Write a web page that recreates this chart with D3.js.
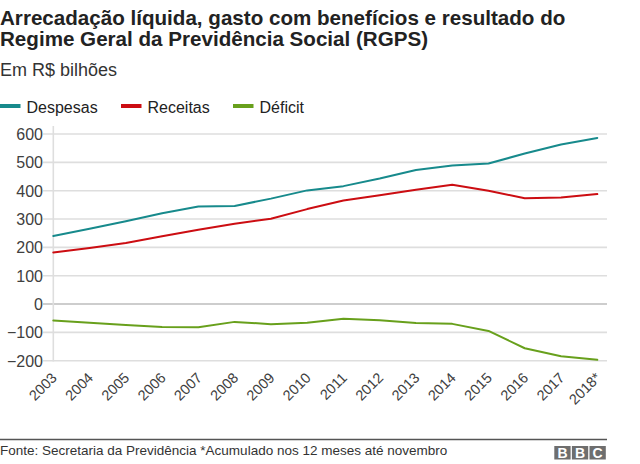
<!DOCTYPE html>
<html>
<head>
<meta charset="utf-8">
<script src="https://cdn.jsdelivr.net/npm/d3@7"></script>
<style>
  html, body { margin: 0; padding: 0; background: #fff; }
  svg { display: block; font-family: "Liberation Sans", Arial, Helvetica, sans-serif; }
</style>
</head>
<body>
<svg id="chart" width="640" height="464"></svg>
<script>
const years = ["2003","2004","2005","2006","2007","2008","2009","2010","2011","2012","2013","2014","2015","2016","2017","2018*"];
const despesas = [240, 266, 292, 320, 344, 346, 372, 401, 416, 443, 473, 489, 496, 531, 563, 586];
const receitas = [182, 198, 215, 239, 262, 283, 301, 335, 365, 384, 403, 421, 400, 373, 376, 388];
const deficit  = [-58, -66, -74, -81, -82, -63, -71, -66, -52, -57, -67, -70, -95, -156, -184, -197];
const yTicks = [600, 500, 400, 300, 200, 100, 0, -100, -200];
const seriesNames = ["Despesas", "Receitas", "Déficit"];
const seriesColors = ["#178a8c", "#cc0d12", "#68a01c"];

const svg = d3.select("#chart");

// Title
const title = svg.append("text").attr("fill", "#222").attr("font-weight", "bold").attr("font-size", 20.6);
title.append("tspan").attr("x", 0).attr("y", 25).text("Arrecadação líquida, gasto com benefícios e resultado do");
title.append("tspan").attr("x", 0).attr("y", 46).text("Regime Geral da Previdência Social (RGPS)");
svg.append("text").attr("x", 0).attr("y", 76).attr("font-size", 18).attr("fill", "#333").text("Em R$ bilhões");

// Legend
const legendX = [0, 121, 233];
seriesNames.forEach((n, i) => {
  svg.append("rect").attr("x", legendX[i]).attr("y", 104).attr("width", 20.5).attr("height", 4).attr("fill", seriesColors[i]);
  svg.append("text").attr("x", legendX[i] + 26.5).attr("y", 112.5).attr("font-size", 16).attr("fill", "#222").text(n);
});

// Scales
const x = d3.scalePoint().domain(years).range([53.3, 597.3]);
const y = d3.scaleLinear().domain([-200, 600]).range([360.7, 134]);

// Grid
const grid = svg.append("g");
grid.selectAll("line").data(yTicks).join("line")
  .attr("x1", 43).attr("x2", 607)
  .attr("y1", d => y(d)).attr("y2", d => y(d))
  .attr("stroke", d => d === 0 ? "#bdbdbd" : "#dedede")
  .attr("stroke-width", 1.6);
svg.append("line").attr("x1", 53.3).attr("x2", 53.3).attr("y1", 126).attr("y2", 361.5)
  .attr("stroke", "#dedede").attr("stroke-width", 1.6);

// Y axis labels via d3 axis
const yAxis = svg.append("g").attr("transform", "translate(43,0)")
  .call(d3.axisLeft(y).tickValues(yTicks).tickSize(0).tickPadding(0).tickFormat(d3.format("d")));
yAxis.select(".domain").remove();
yAxis.selectAll("text").attr("font-size", 16).attr("fill", "#404040")
  .attr("font-family", "Liberation Sans, Arial, sans-serif").attr("dy", "0.35em");

// X axis labels
const xAxis = svg.append("g").attr("transform", "translate(0,360.7)")
  .call(d3.axisBottom(x).tickSize(0).tickPadding(0));
xAxis.select(".domain").remove();
xAxis.selectAll("text")
  .attr("font-size", 14.5).attr("fill", "#404040")
  .attr("font-family", "Liberation Sans, Arial, sans-serif")
  .attr("text-anchor", "end")
  .attr("dy", null).attr("y", null)
  .attr("transform", "translate(4,18) rotate(-45)");

// Lines
const line = d3.line().x((d, i) => x(years[i])).y(d => y(d));
[despesas, receitas, deficit].forEach((s, i) => {
  svg.append("path").datum(s).attr("d", line)
    .attr("fill", "none").attr("stroke", seriesColors[i]).attr("stroke-width", 2)
    .attr("stroke-linejoin", "round").attr("stroke-linecap", "round");
});

// Footer
svg.append("line").attr("x1", 0).attr("x2", 607).attr("y1", 439.5).attr("y2", 439.5)
  .attr("stroke", "#555").attr("stroke-width", 1.5);
svg.append("text").attr("x", 0).attr("y", 455).attr("font-size", 13.5).attr("fill", "#333")
  .text("Fonte: Secretaria da Previdência *Acumulado nos 12 meses até novembro");
const logo = ["B", "B", "C"];
logo.forEach((l, i) => {
  const bx = 554.3 + i * 17.6;
  svg.append("rect").attr("x", bx).attr("y", 446).attr("width", 16.3).attr("height", 13.5).attr("fill", "#6e6e6e");
  svg.append("text").attr("x", bx + 8.15).attr("y", 457.9).attr("text-anchor", "middle")
    .attr("font-size", 14).attr("font-weight", "bold").attr("fill", "#fff").text(l);
});
</script>
</body>
</html>
